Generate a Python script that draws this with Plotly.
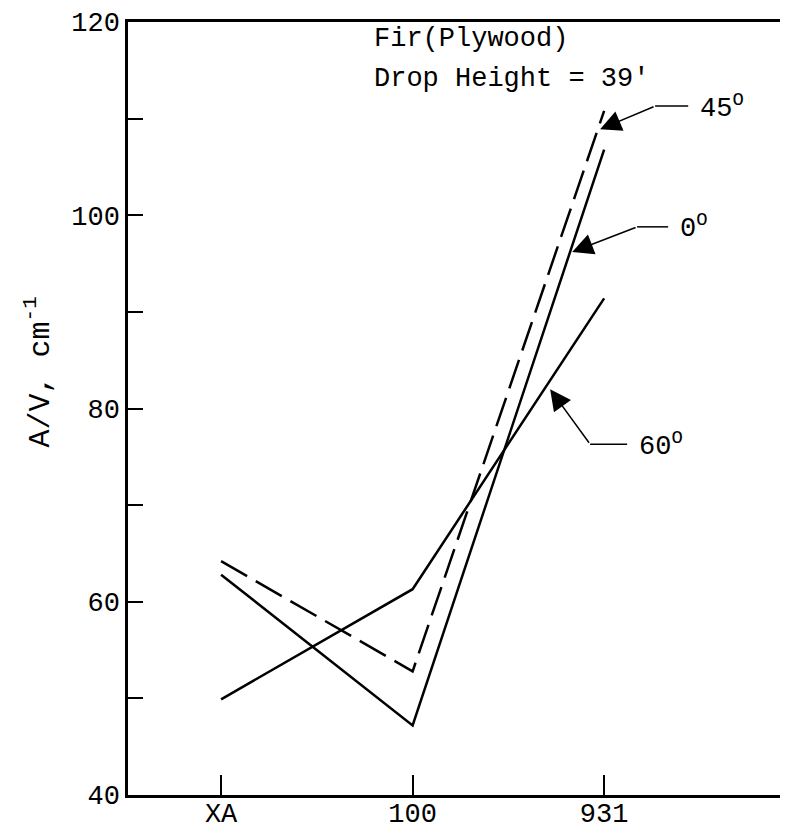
import plotly.graph_objects as go

categories = ["XA", "100", "931"]
angle_0 = [62.8, 47.2, 106.8]
angle_45 = [64.2, 52.8, 110.8]
angle_60 = [49.9, 61.3, 91.4]

FONT = "Liberation Mono"
FS = 27

fig = go.Figure()
line_style = dict(color="black", width=2.5)
fig.add_trace(go.Scatter(x=categories, y=angle_0, mode="lines", line=line_style, name="0°"))
fig.add_trace(go.Scatter(x=categories, y=angle_45, mode="lines",
                         line=dict(color="black", width=2.5, dash="30px,10px"), name="45°"))
fig.add_trace(go.Scatter(x=categories, y=angle_60, mode="lines", line=line_style, name="60°"))

# callouts: (tip x, tip y, bend x, bend y, end x, label)
callouts = [
    (1.979, 108.9, 2.266, 111.3, 2.439, "45"),
    (1.833, 96.2, 2.172, 98.8, 2.334, "0"),
    (1.718, 82.0, 1.927, 76.3, 2.12, "60"),
]
annotations = []
shapes = []
for tx, ty, bx, by, ex, lab in callouts:
    annotations.append(dict(x=tx, y=ty, ax=bx, ay=by, xref="x", yref="y", axref="x", ayref="y",
                            text="", showarrow=True, arrowhead=2, arrowsize=2.8, arrowwidth=1.5,
                            arrowcolor="black", standoff=0))
    shapes.append(dict(type="line", xref="x", yref="y", x0=bx, y0=by, x1=ex, y1=by,
                       line=dict(color="black", width=1.5)))
    annotations.append(dict(x=ex + 0.05, y=by, xref="x", yref="y", xanchor="left", yanchor="middle",
                            text=lab + "<sup>O</sup>", showarrow=False,
                            font=dict(family=FONT, size=FS, color="black")))

annotations.append(dict(x=0.79, y=118.2, xref="x", yref="y", xanchor="left", yanchor="middle",
                        text="Fir(Plywood)", showarrow=False, font=dict(family=FONT, size=FS, color="black")))
annotations.append(dict(x=0.79, y=114.1, xref="x", yref="y", xanchor="left", yanchor="middle",
                        text="Drop Height = 39'", showarrow=False, font=dict(family=FONT, size=FS, color="black")))
annotations.append(dict(x=-0.136, y=0.547, xref="paper", yref="paper", xanchor="center", yanchor="middle",
                        text="A/V, cm<sup>-1</sup>", textangle=-90, showarrow=False,
                        font=dict(family=FONT, size=30, color="black")))

fig.update_layout(
    width=780, height=823,
    margin=dict(l=120, r=0, t=14, b=36, autoexpand=False),
    paper_bgcolor="white", plot_bgcolor="white",
    showlegend=False,
    annotations=annotations, shapes=shapes,
    font=dict(family=FONT, size=FS, color="black"),
)
fig.update_xaxes(type="category", categoryorder="array", categoryarray=categories,
                 range=[-0.486, 2.96], showgrid=False, zeroline=False,
                 showline=True, linecolor="black", linewidth=2.5, mirror=True,
                 ticks="inside", ticklen=20, tickwidth=1.5, tickcolor="black",
                 ticklabelstandoff=-8,
                 tickfont=dict(family=FONT, size=FS, color="black"))
fig.update_yaxes(range=[40, 120], showgrid=False, zeroline=False,
                 showline=True, linecolor="black", linewidth=2.5,
                 tick0=40, dtick=20,
                 ticks="inside", ticklen=15, tickwidth=2, tickcolor="black",
                 minor=dict(dtick=10, tick0=40, ticks="inside", ticklen=15, tickwidth=2, tickcolor="black"),
                 tickfont=dict(family=FONT, size=FS, color="black"))

fig.write_html("out.html")
